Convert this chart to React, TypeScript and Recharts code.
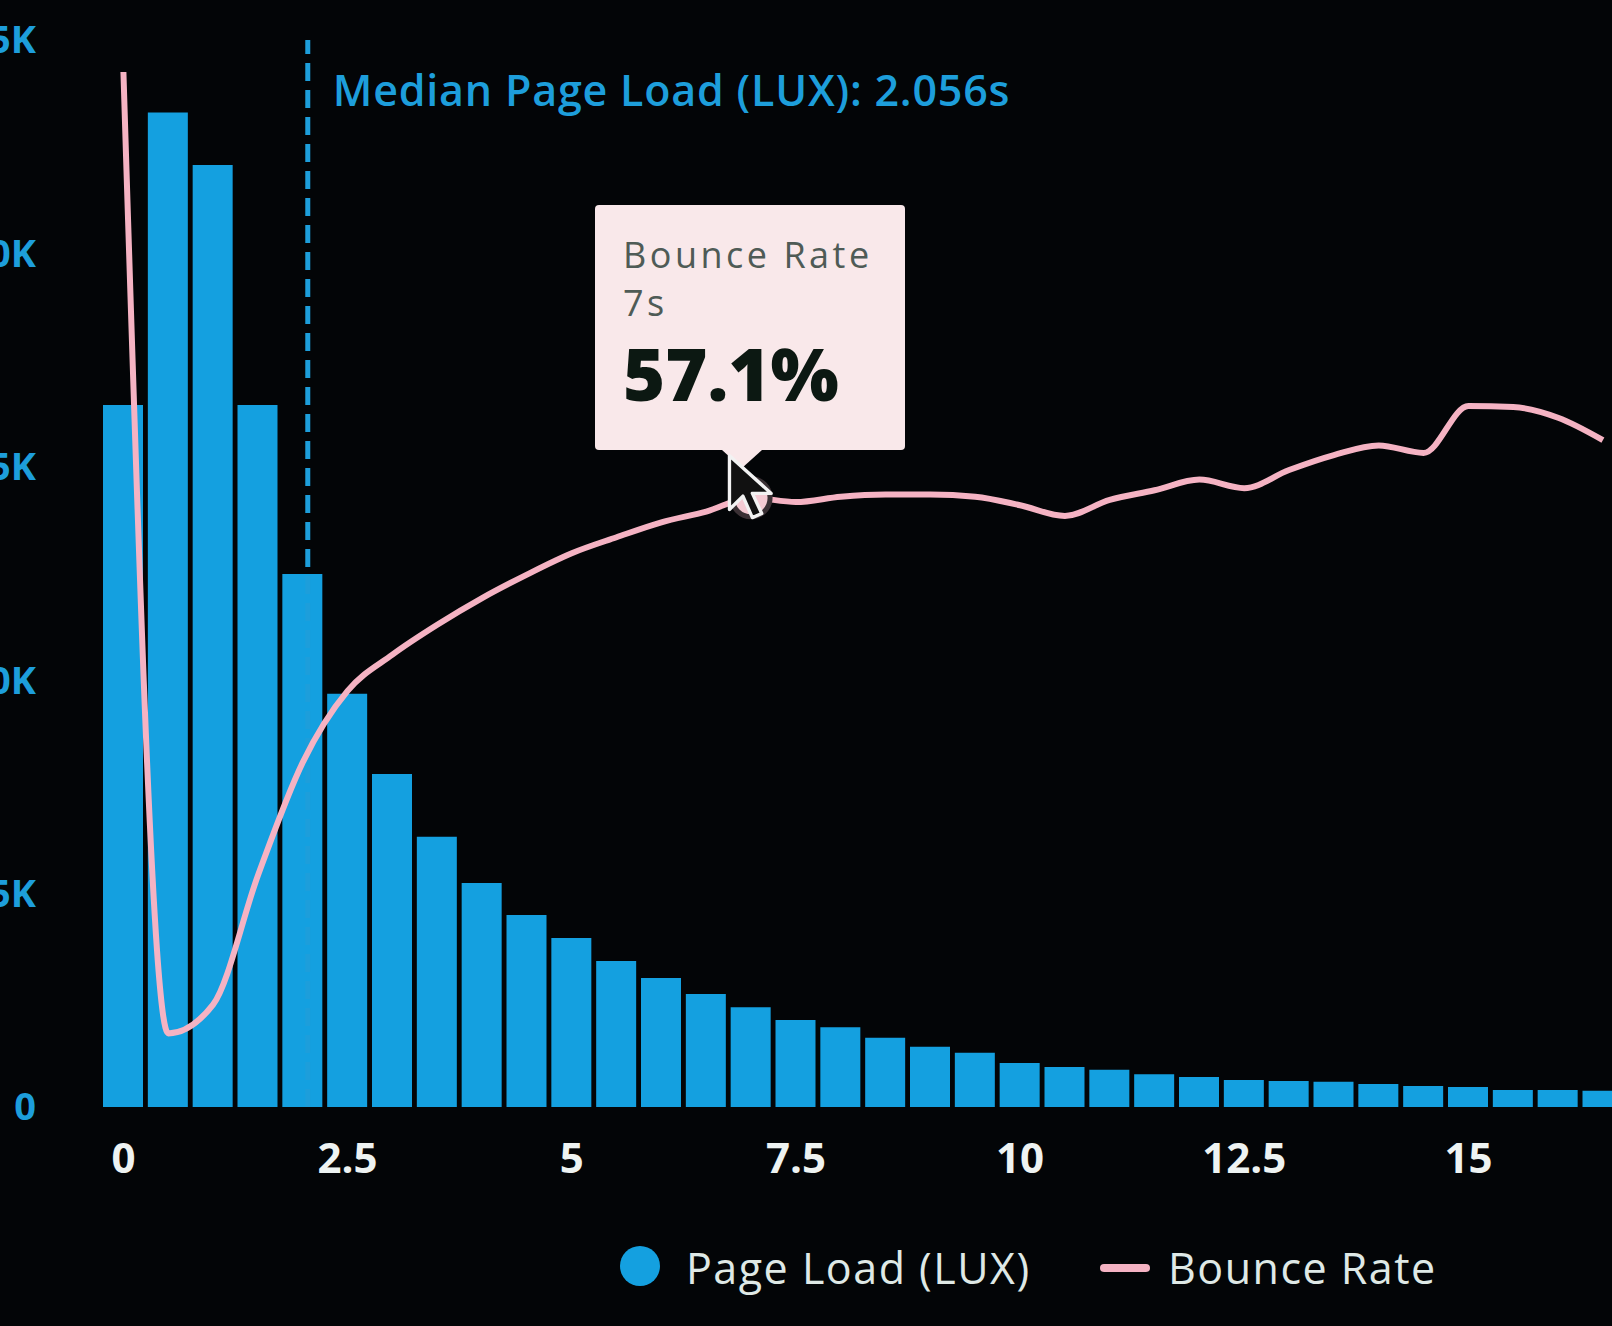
import {
  Bar,
  ComposedChart,
  Legend,
  Line,
  ReferenceLine,
  Tooltip,
  XAxis,
  YAxis,
} from "recharts";

// load time buckets (seconds)
const loadTimes = [
  0, 0.5, 1, 1.5, 2, 2.5, 3, 3.5, 4, 4.5, 5, 5.5, 6, 6.5, 7, 7.5, 8, 8.5, 9,
  9.5, 10, 10.5, 11, 11.5, 12, 12.5, 13, 13.5, 14, 14.5, 15, 15.5, 16, 16.5,
];

// page loads per bucket
const pageLoads = [
  16450, 23300, 22070, 16450, 12490, 9680, 7800, 6330, 5250, 4500, 3960, 3420,
  3020, 2650, 2340, 2040, 1870, 1620, 1410, 1270, 1030, 940, 870, 770, 700,
  630, 610, 590, 540, 490, 470, 400, 400, 380,
];

// bounce rate per bucket (%)
const bounceRates = [
  97.0, 6.9, 9.6, 21.7, 32.3, 39.0, 42.4, 45.2, 47.7, 49.9, 51.9, 53.4, 54.8,
  55.8, 57.1, 56.7, 57.2, 57.4, 57.4, 57.2, 56.4, 55.4, 56.9, 57.8, 58.8, 58.0,
  59.7, 61.1, 62.0, 61.3, 65.7, 65.6, 64.6, 62.5,
];

const xTicks = [0, 2.5, 5, 7.5, 10, 12.5, 15];
const countTicks = [0, 5000, 10000, 15000, 20000, 25000];
const MEDIAN = 2.056;

const data = loadTimes.map((t, i) => ({
  t,
  pageLoads: pageLoads[i],
  bounceRate: bounceRates[i],
}));

const BLUE = "#14a0e0";
const LABEL_BLUE = "#1d9edb";
const PINK = "#f5b3c3";
const FONT = "'Open Sans', 'Noto Sans', sans-serif";

function MedianLabel({ viewBox }: any) {
  return (
    <text
      x={viewBox.x + 25}
      y={viewBox.y + 66}
      fill={LABEL_BLUE}
      fontSize={43}
      fontWeight={600}
      letterSpacing={0.8}
      fontFamily={FONT}
    >
      {`Median Page Load (LUX): ${MEDIAN}s`}
    </text>
  );
}

function BounceTooltip({ active, payload, label }: any) {
  if (!active || !payload) return null;
  const item = payload.find((p: any) => p.dataKey === "bounceRate");
  if (!item) return null;
  const small = { fontSize: 36, letterSpacing: 3.5, color: "#4f5b56", lineHeight: "48px" };
  return (
    <div
      style={{
        position: "relative",
        width: 310,
        height: 245,
        background: "#f9e8ea",
        borderRadius: 4,
        boxSizing: "border-box",
        padding: "26px 0 0 28px",
        fontFamily: FONT,
      }}
    >
      <div style={small}>{item.name}</div>
      <div style={small}>{label}s</div>
      <div
        style={{
          fontSize: 72,
          fontWeight: 800,
          color: "#0c1812",
          lineHeight: "90px",
          marginTop: 1,
        }}
      >
        {item.value.toFixed(1)}%
      </div>
      <div
        style={{
          position: "absolute",
          left: 127,
          top: 245,
          width: 0,
          height: 0,
          borderLeft: "20px solid transparent",
          borderRight: "20px solid transparent",
          borderTop: "18px solid #f9e8ea",
        }}
      />
      {/* mouse pointer from the screenshot */}
      <svg
        width={50}
        height={70}
        viewBox="0 0 36 52"
        style={{ position: "absolute", left: 131, top: 248 }}
      >
        <path
          d="M2 2 L2 42 L12 32 L19 48 L26 45 L19 30 L33 30 Z"
          fill="#111"
          stroke="#f2f2f2"
          strokeWidth={2.5}
          strokeLinejoin="round"
        />
      </svg>
    </div>
  );
}

function LegendContent() {
  const text = {
    position: "absolute" as const,
    top: -2,
    fontFamily: FONT,
    fontSize: 43,
    letterSpacing: 1.5,
    color: "#dfe9e6",
    lineHeight: "48px",
  };
  return (
    <div style={{ position: "relative", width: 1700, height: 80 }}>
      <div
        style={{
          position: "absolute",
          left: 660,
          top: 0,
          width: 40,
          height: 40,
          borderRadius: 20,
          background: BLUE,
        }}
      />
      <div style={{ ...text, left: 726 }}>Page Load (LUX)</div>
      <div
        style={{
          position: "absolute",
          left: 1140,
          top: 18,
          width: 50,
          height: 8,
          borderRadius: 4,
          background: PINK,
        }}
      />
      <div style={{ ...text, left: 1208 }}>Bounce Rate</div>
    </div>
  );
}

export default function App() {
  return (
    <div
      style={{
        position: "fixed",
        left: 0,
        top: 0,
        width: 1612,
        height: 1326,
        overflow: "hidden",
        background: "#030507",
      }}
    >
      <div style={{ position: "absolute", left: -40, top: 0 }}>
        <ComposedChart
          width={1755}
          height={1326}
          data={data}
          margin={{ top: 40, right: 0, bottom: 0, left: 0 }}
        >
          <XAxis
            dataKey="t"
            type="number"
            domain={[-0.25, 17.75]}
            allowDataOverflow
            ticks={xTicks}
            interval={0}
            axisLine={false}
            tickLine={false}
            tickSize={0}
            tickMargin={36}
            height={139}
            tick={{ fill: "#eef3f2", fontSize: 42, fontWeight: 700, fontFamily: FONT }}
          />
          <YAxis
            yAxisId="count"
            width={141}
            domain={[0, 25000]}
            ticks={countTicks}
            tickFormatter={(v: number) => (v === 0 ? "0" : `${v / 1000}K`)}
            axisLine={false}
            tickLine={false}
            tickSize={0}
            tickMargin={65}
            tick={{ fill: LABEL_BLUE, fontSize: 38, fontWeight: 700, fontFamily: FONT }}
          />
          <YAxis yAxisId="rate" orientation="right" domain={[0, 100]} hide />
          <ReferenceLine
            yAxisId="count"
            x={MEDIAN}
            stroke={LABEL_BLUE}
            strokeWidth={5}
            strokeDasharray="18 9"
            label={<MedianLabel />}
          />
          <Bar
            yAxisId="count"
            dataKey="pageLoads"
            name="Page Load (LUX)"
            fill={BLUE}
            barSize={40}
            isAnimationActive={false}
          />
          <Line
            yAxisId="rate"
            dataKey="bounceRate"
            name="Bounce Rate"
            type="monotone"
            stroke={PINK}
            strokeWidth={6}
            dot={false}
            activeDot={{ r: 19, fill: "#f4cad3", stroke: "#3a3034", strokeWidth: 5 }}
            isAnimationActive={false}
          />
          <Tooltip
            defaultIndex={14}
            active
            cursor={false}
            position={{ x: 635, y: 205 }}
            isAnimationActive={false}
            wrapperStyle={{ outline: "none", zIndex: 10 }}
            content={<BounceTooltip />}
          />
          <Legend verticalAlign="bottom" height={80} content={<LegendContent />} />
        </ComposedChart>
      </div>
    </div>
  );
}
